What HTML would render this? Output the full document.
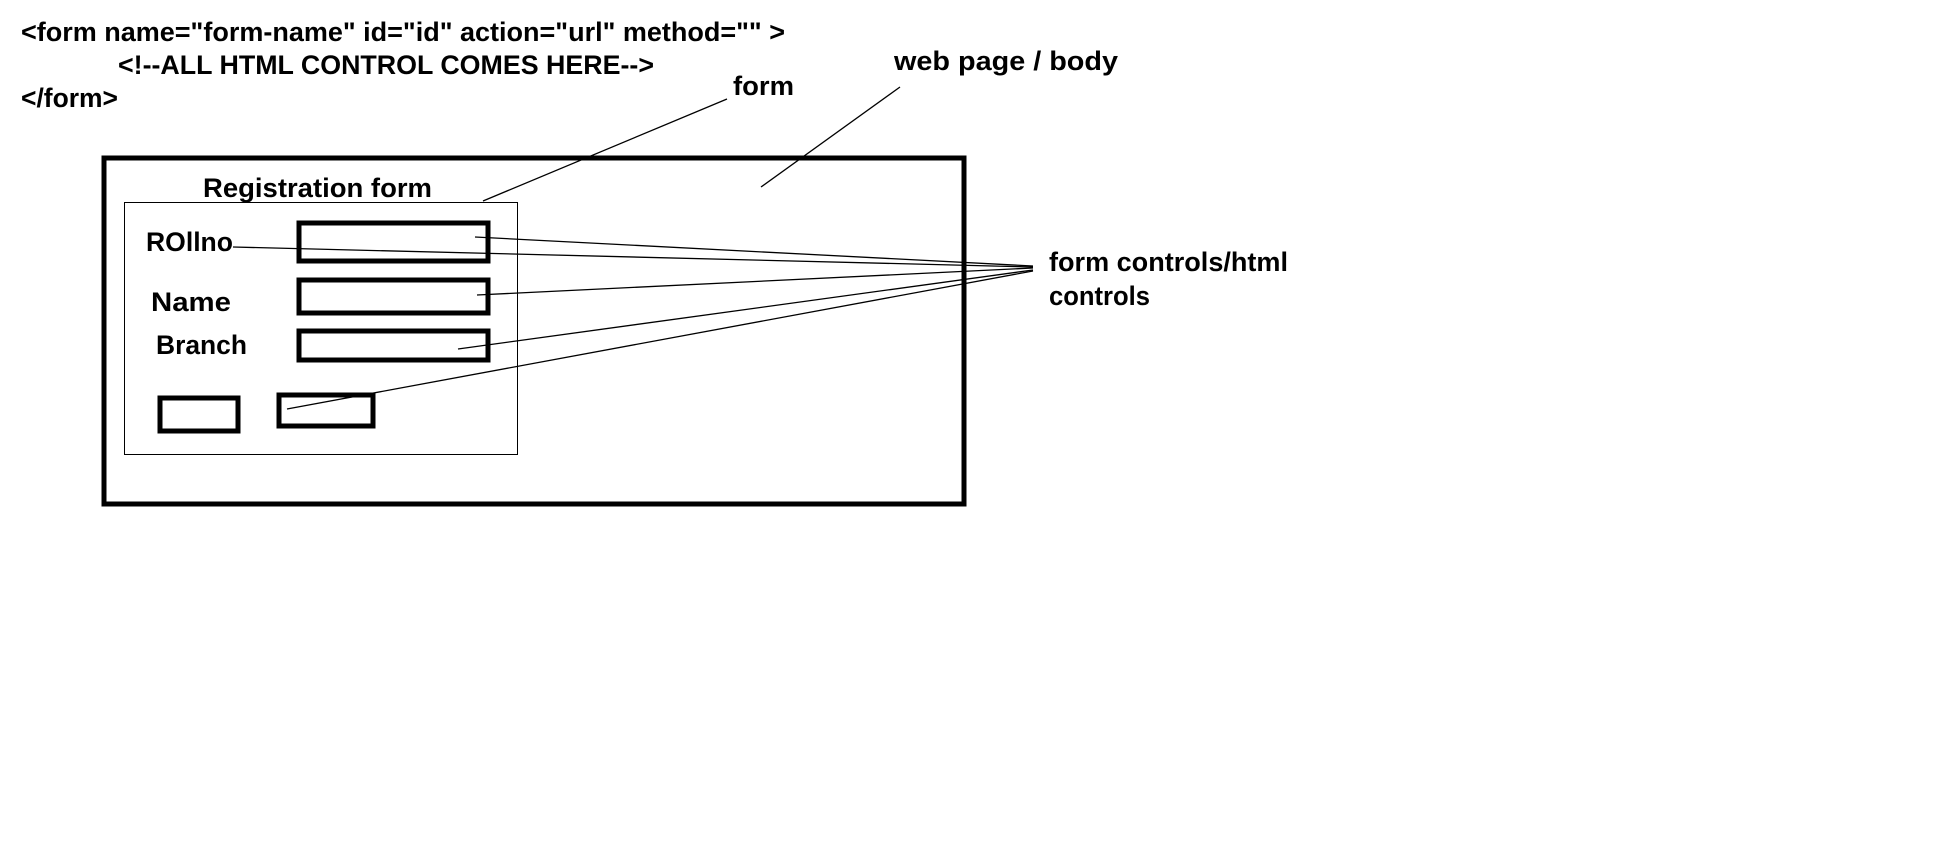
<!DOCTYPE html>
<html><head><meta charset="utf-8"><style>html,body{margin:0;padding:0;background:#fff}svg{display:block}</style></head>
<body>
<svg width="1956" height="846" xmlns="http://www.w3.org/2000/svg" font-family="Liberation Sans, sans-serif" font-weight="bold" fill="#000">
<rect width="1956" height="846" fill="#fff"/>
<g font-size="27">
<text x="21" y="41" textLength="764" lengthAdjust="spacingAndGlyphs">&lt;form  name="form-name" id="id" action="url" method="" &gt;</text>
<text x="118" y="74" textLength="536" lengthAdjust="spacingAndGlyphs">&lt;!--ALL HTML CONTROL COMES HERE--&gt;</text>
<text x="21" y="107" textLength="97" lengthAdjust="spacingAndGlyphs">&lt;/form&gt;</text>
<text x="733" y="95" textLength="61" lengthAdjust="spacingAndGlyphs">form</text>
<text x="894" y="70" textLength="224" lengthAdjust="spacingAndGlyphs">web page / body</text>
<text x="203" y="197" textLength="229" lengthAdjust="spacingAndGlyphs">Registration form</text>
<text x="146" y="251" textLength="87" lengthAdjust="spacingAndGlyphs">ROllno</text>
<text x="151" y="311" textLength="80" lengthAdjust="spacingAndGlyphs">Name</text>
<text x="156" y="354" textLength="91" lengthAdjust="spacingAndGlyphs">Branch</text>
<text x="1049" y="271" textLength="239" lengthAdjust="spacingAndGlyphs">form controls/html</text>
<text x="1049" y="305" textLength="101" lengthAdjust="spacingAndGlyphs">controls</text>
</g>
<g fill="none" stroke="#000">
<rect x="104" y="158" width="860" height="346" stroke-width="5"/>
<rect x="124.5" y="202.5" width="393" height="252" stroke-width="1"/>
<rect x="299" y="223" width="189" height="38" stroke-width="5"/>
<rect x="299" y="280" width="189" height="33" stroke-width="5"/>
<rect x="299" y="331" width="189" height="29" stroke-width="5"/>
<rect x="160" y="398" width="78" height="33" stroke-width="5"/>
<rect x="279" y="395" width="94" height="31" stroke-width="5"/>
<g stroke-width="1.3">
<line x1="483" y1="201" x2="727" y2="99"/>
<line x1="761" y1="187" x2="900" y2="87"/>
<line x1="475" y1="237" x2="1033" y2="266"/>
<line x1="233" y1="247" x2="1033" y2="267"/>
<line x1="477" y1="295" x2="1033" y2="268"/>
<line x1="458" y1="349" x2="1033" y2="270"/>
<line x1="287" y1="409" x2="1033" y2="271"/>
</g>
</g>
</svg>
</body></html>
